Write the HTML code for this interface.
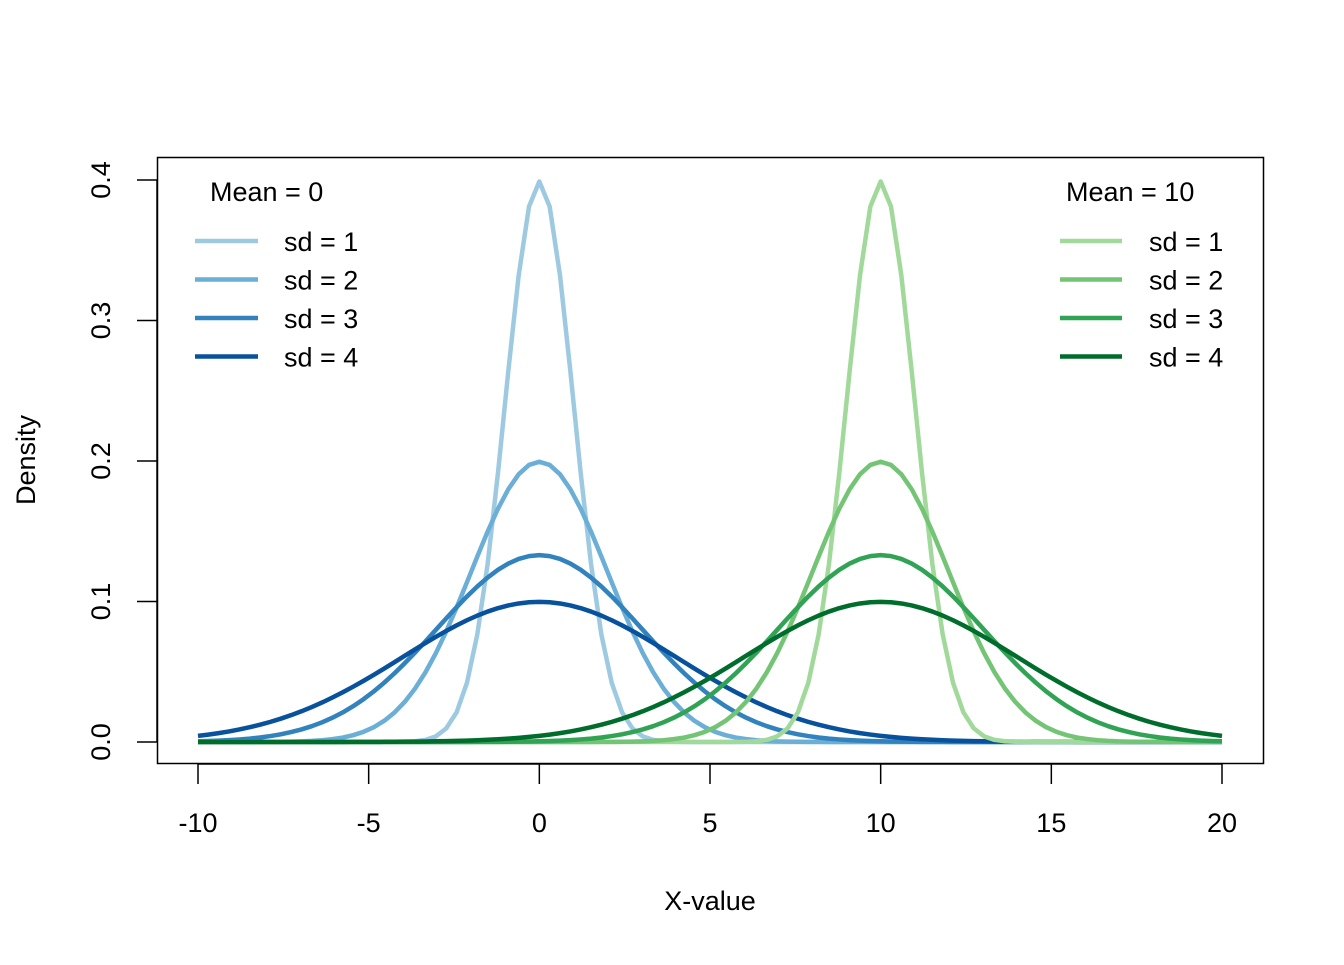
<!DOCTYPE html>
<html><head><meta charset="utf-8">
<style>
html,body{margin:0;padding:0;background:#fff;}
svg text{font-family:"Liberation Sans",Arial,sans-serif;font-size:27px;fill:#000;}
</style></head>
<body>
<svg id="chart" width="1344" height="960" xmlns="http://www.w3.org/2000/svg">
<rect x="157.5" y="157.5" width="1106" height="606" fill="none" stroke="#000" stroke-width="1.5"/>
<g id="axes"></g>
<g id="series"></g>
<g id="legend"></g>
<text x="710" y="910" text-anchor="middle">X-value</text>
<text transform="translate(35,460) rotate(-90)" text-anchor="middle">Density</text>
</svg>
<script>
const means = [0, 10];
const sds = [1, 2, 3, 4];
const xTicks = [-10, -5, 0, 5, 10, 15, 20];
const yTicks = [0, 0.1, 0.2, 0.3, 0.4];
const yTickLabels = ["0.0", "0.1", "0.2", "0.3", "0.4"];
const xMin = -10, xMax = 20, nPts = 100;

const blues = ["#9ECAE1", "#6BAED6", "#3182BD", "#08519C"];
const greens = ["#A1D99B", "#74C476", "#31A354", "#006D2C"];
const palettes = [blues, greens];

const NS = "http://www.w3.org/2000/svg";
function X(v){ return 198 + (v - (-10)) * (1222 - 198) / 30; }
function Y(v){ return 742 - v * (742 - 180) / 0.4; }
function mk(tag, attrs, parent){
  const e = document.createElementNS(NS, tag);
  for (const k in attrs) e.setAttribute(k, attrs[k]);
  parent.appendChild(e); return e;
}
function dnorm(x, m, s){ return Math.exp(-0.5 * ((x - m) / s) ** 2) / (s * Math.sqrt(2 * Math.PI)); }

const axes = document.getElementById("axes");
// x axis
let ax = mk("line", {x1: X(xTicks[0]), x2: X(xTicks[xTicks.length-1]), y1: 764, y2: 764, stroke: "#000", "stroke-width": 1.5}, axes);


xTicks.forEach(t => {
  const l = mk("line", {x1: X(t), x2: X(t), y1: 764, y2: 784, stroke: "#000", "stroke-width": 1.5}, axes);
  
  
  const tx = mk("text", {x: X(t), y: 832, "text-anchor": "middle"}, axes);
  tx.textContent = String(t);
  
  
});
// y axis
ax = mk("line", {x1: 157, x2: 157, y1: Y(yTicks[0]), y2: Y(yTicks[yTicks.length-1]), stroke: "#000", "stroke-width": 1.5}, axes);


yTicks.forEach((t, i) => {
  const l = mk("line", {x1: 137, x2: 157, y1: Y(t), y2: Y(t), stroke: "#000", "stroke-width": 1.5}, axes);
  
  
  const tx = mk("text", {transform: `translate(110,${Y(t)}) rotate(-90)`, "text-anchor": "middle"}, axes);
  tx.textContent = yTickLabels[i];
  
  
});

// series
const series = document.getElementById("series");
means.forEach((m, mi) => {
  sds.forEach((s, si) => {
    let d = "";
    for (let i = 0; i < nPts; i++) {
      const x = xMin + (xMax - xMin) * i / (nPts - 1);
      d += (i ? "L" : "M") + X(x).toFixed(2) + "," + Y(dnorm(x, m, s)).toFixed(2);
    }
    const p = mk("path", {d: d, fill: "none", stroke: palettes[mi][si], "stroke-width": 4.5, "stroke-linejoin": "round"}, series);
    
    
  });
});

// legends
const legend = document.getElementById("legend");
const legPos = [{title: 210, lx1: 195, lx2: 258, tx: 284}, {title: 1066, lx1: 1060, lx2: 1122, tx: 1149}];
means.forEach((m, mi) => {
  const lp = legPos[mi];
  const t = mk("text", {x: lp.title, y: 201}, legend);
  t.textContent = "Mean = " + m;
  
  
  sds.forEach((s, si) => {
    const yy = 241 + si * 38.5;
    const l = mk("line", {x1: lp.lx1, x2: lp.lx2, y1: yy, y2: yy, stroke: palettes[mi][si], "stroke-width": 4.5}, legend);
    
    
    const tx = mk("text", {x: lp.tx, y: yy + 10}, legend);
    tx.textContent = "sd = " + s;
    
    
  });
});
</script>
</body></html>
